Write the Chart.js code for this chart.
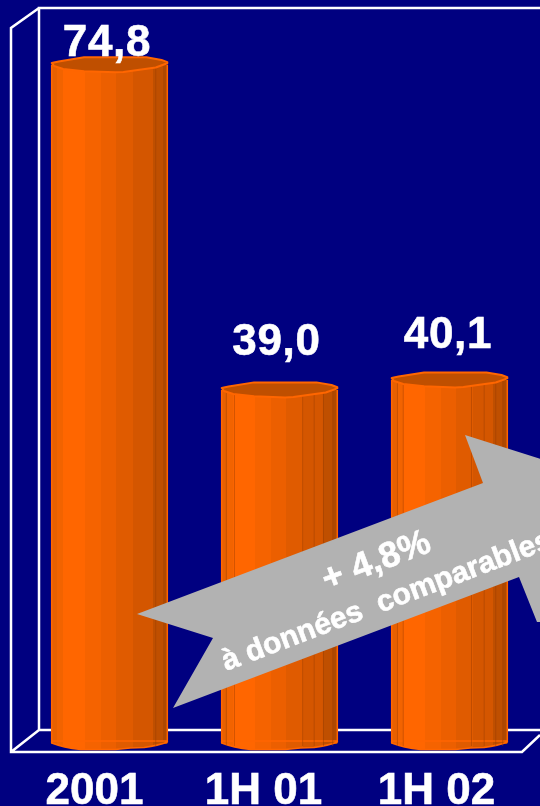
<!DOCTYPE html>
<html>
<head>
<meta charset="utf-8">
<style>
  html, body { margin: 0; padding: 0; background: #000080; }
  canvas { display: block; }
</style>
<script src="https://cdn.jsdelivr.net/npm/chart.js@4"></script>
</head>
<body>
<canvas id="salesChart" width="540" height="806"></canvas>
<script>
const categories = ['2001', '1H 01', '1H 02'];
const values = [74.8, 39.0, 40.1];
const valueLabels = ['74,8', '39,0', '40,1'];
const arrowTitle = '+ 4,8%';
const arrowSubtitle = 'à données  comparables';

const BAR_PCT = 0.68;
const CAP_RY = 7.5;
const FONT = '"Liberation Sans", Arial, sans-serif';
const bands = [
    [0, '#E86000'], [0.05, '#F26300'], [0.10, '#FF6600'], [0.29, '#F56300'],
    [0.43, '#EC5F00'], [0.56, '#E05B00'], [0.70, '#D45600'], [0.88, '#BF4F00'], [0.96, '#AF4800']
];
// thin darker ridges on each cylinder (fraction of bar width)
const ridges = [[0.9], [0.04, 0.11, 0.70, 0.80, 0.88, 0.96], [0.05, 0.10, 0.69, 0.80, 0.90, 0.96]];
// wobbly cap outline, fraction of width / fraction of radius
const capShape = [[0, -0.25], [0.06, -0.45], [0.28, -1], [0.82, -1], [0.95, -0.65], [1, -0.35], [1, -0.2], [0.9, 0.35], [0.62, 0.95], [0.55, 1], [0.28, 0.85], [0.1, 0.55], [0.02, 0.15]];

function barGradient(ctx, x0, x1) {
    const g = ctx.createLinearGradient(x0, 0, x1, 0);
    bands.forEach(([stop, color], i) => {
        g.addColorStop(stop, i ? bands[i - 1][1] : color);
        g.addColorStop(stop, color);
    });
    g.addColorStop(1, bands[bands.length - 1][1]);
    return g;
}

const framePlugin = {
    id: 'frame',
    beforeDatasetsDraw(chart) {
        const c = chart.ctx;
        c.save();
        c.strokeStyle = '#FFFFFF';
        c.lineWidth = 2.5;
        c.beginPath();
        c.moveTo(540, 8); c.lineTo(39, 8); c.lineTo(39, 730); c.lineTo(540, 730);
        c.moveTo(39, 8); c.lineTo(11, 28); c.lineTo(11, 752); c.lineTo(522, 752); c.lineTo(540, 735);
        c.moveTo(11, 752); c.lineTo(39, 730);
        c.stroke();
        c.restore();
    }
};

const cylinderPlugin = {
    id: 'cylinder',
    afterDatasetsDraw(chart) {
        const c = chart.ctx;
        chart.getDatasetMeta(0).data.forEach((bar, i) => {
            const x0 = bar.x - bar.width / 2;
            const x1 = bar.x + bar.width / 2;
            const w = bar.width;
            c.save();

            // foot of the cylinder
            c.beginPath();
            c.moveTo(x0, bar.base - 3);
            c.lineTo(x0, bar.base - 1);
            c.quadraticCurveTo(x0 + w * 0.1, bar.base + 3.5, x0 + w * 0.25, bar.base + 5.5);
            c.lineTo(x0 + w * 0.55, bar.base + 5.5);
            c.lineTo(x0 + w * 0.68, bar.base + 4);
            c.lineTo(x0 + w * 0.8, bar.base + 3.5);
            c.quadraticCurveTo(x0 + w * 0.92, bar.base + 1.5, x1, bar.base - 2);
            c.lineTo(x1, bar.base - 3);
            c.closePath();
            c.fillStyle = barGradient(c, x0, x1);
            c.fill();
            c.strokeStyle = '#FF6600';
            c.lineWidth = 1.5;
            c.lineJoin = 'round';
            c.stroke();

            c.strokeStyle = 'rgba(150,60,0,0.45)';
            c.lineWidth = 1;
            ridges[i].forEach(f => {
                c.beginPath();
                c.moveTo(x0 + w * f, bar.y);
                c.lineTo(x0 + w * f, bar.base + 2);
                c.stroke();
            });

            // side edges
            c.strokeStyle = '#FF6600';
            c.lineWidth = 1.5;
            c.beginPath();
            c.moveTo(x0, bar.y); c.lineTo(x0, bar.base - 1);
            c.moveTo(x1, bar.y); c.lineTo(x1, bar.base - 2);
            c.stroke();

            // top cap
            c.beginPath();
            capShape.forEach(([u, v], k) => {
                const px = x0 + u * w;
                const py = bar.y + v * CAP_RY;
                if (k) c.lineTo(px, py); else c.moveTo(px, py);
            });
            c.closePath();
            c.fillStyle = '#BF4F00';
            c.fill();
            c.strokeStyle = '#FF6600';
            c.lineWidth = 2;
            c.stroke();
            c.restore();
        });
    }
};

const labelPlugin = {
    id: 'labels',
    afterDraw(chart) {
        const c = chart.ctx;
        const bars = chart.getDatasetMeta(0).data;
        const valueShift = [[-2.5, -9], [-3, -35], [-1.5, -32]];
        const tickShift = [-15, -16, -13];
        c.save();
        c.fillStyle = '#FFFFFF';
        c.strokeStyle = '#FFFFFF';
        c.textAlign = 'center';
        c.textBaseline = 'alphabetic';
        c.lineWidth = 0.6;
        c.font = 'bold 44px ' + FONT;
        c.letterSpacing = '0.7px';
        bars.forEach((bar, i) => {
            const t = valueLabels[i];
            c.fillText(t, bar.x + valueShift[i][0], bar.y + valueShift[i][1]);
            c.strokeText(t, bar.x + valueShift[i][0], bar.y + valueShift[i][1]);
        });
        c.letterSpacing = '0px';
        bars.forEach((bar, i) => {
            const t = chart.data.labels[i];
            c.fillText(t, bar.x + tickShift[i], 804);
            c.strokeText(t, bar.x + tickShift[i], 804);
        });

        // growth arrow across the last two bars
        c.fillStyle = '#B2B2B2';
        c.beginPath();
        [[137, 614], [483, 483], [465, 435], [541, 459], [541, 622], [537, 622], [519, 577], [173, 708], [213, 638]]
            .forEach(([x, y], i) => (i ? c.lineTo(x, y) : c.moveTo(x, y)));
        c.closePath();
        c.fill();

        c.fillStyle = '#FFFFFF';
        c.save();
        c.translate(380, 571);
        c.rotate(-20.7 * Math.PI / 180);
        c.font = 'bold 36px ' + FONT;
        c.fillText(arrowTitle, 0, 0);
        c.strokeText(arrowTitle, 0, 0);
        c.restore();
        c.save();
        c.translate(226, 671);
        c.rotate(-20.7 * Math.PI / 180);
        c.textAlign = 'left';
        c.font = 'bold 30px ' + FONT;
        c.fillText(arrowSubtitle, 0, 0);
        c.strokeText(arrowSubtitle, 0, 0);
        c.restore();
        c.restore();
    }
};

new Chart(document.getElementById('salesChart').getContext('2d'), {
    type: 'bar',
    data: {
        labels: categories,
        datasets: [{
            data: values,
            borderWidth: 0,
            barPercentage: BAR_PCT,
            categoryPercentage: 1,
            backgroundColor(context) {
                const chart = context.chart;
                if (!chart.chartArea) return '#FF6600';
                const cx = chart.scales.x.getPixelForValue(context.dataIndex);
                const half = chart.scales.x.width / categories.length * BAR_PCT / 2;
                return barGradient(chart.ctx, cx - half, cx + half);
            }
        }]
    },
    options: {
        responsive: false,
        animation: false,
        layout: { padding: { left: 24.5, right: 5.5, top: 17.6, bottom: 62 } },
        plugins: { legend: { display: false }, tooltip: { enabled: false } },
        scales: {
            x: { display: false },
            y: { display: false, min: 0, max: 80 }
        }
    },
    plugins: [framePlugin, cylinderPlugin, labelPlugin]
});
</script>
</body>
</html>
